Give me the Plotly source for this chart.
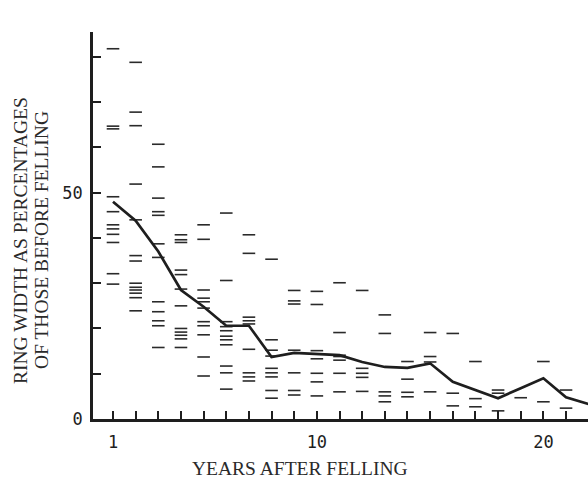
import plotly.graph_objects as go

# ---- data ----
years = list(range(1, 23))
mean_pct = [48.0, 43.8, 37.0, 28.5, 24.8, 20.6, 20.6, 13.7, 14.6, 14.4, 14.1,
            12.6, 11.5, 11.3, 12.3, 8.2, 6.4, 4.6, 6.8, 9.0, 4.8, 3.3]

yr01 = [81.8, 64.7, 64.1, 49.1, 45.8, 42.9, 42.0, 40.8, 39.0, 32.1, 29.8]
yr02 = [78.8, 67.8, 64.8, 51.9, 44.0, 36.1, 34.9, 30.0, 29.1, 28.5, 27.8, 26.8, 23.9]
yr03 = [60.7, 55.7, 48.8, 45.8, 45.0, 38.7, 35.7, 25.9, 23.7, 21.7, 20.6, 15.8]
yr04 = [40.7, 39.6, 39.0, 32.9, 31.9, 28.7, 25.0, 20.0, 19.2, 18.5, 17.7, 15.8]
yr05 = [42.9, 39.7, 28.5, 26.7, 25.9, 24.5, 21.5, 20.6, 18.6, 13.7, 9.5]
yr06 = [45.5, 30.6, 21.5, 20.4, 19.5, 18.3, 17.5, 16.4, 11.7, 10.2, 6.6]
yr07 = [40.7, 36.6, 22.5, 21.7, 21.0, 15.4, 10.2, 9.3, 8.4]
yr08 = [35.3, 17.5, 15.2, 13.9, 11.2, 10.2, 9.3, 6.3, 4.6]
yr09 = [28.4, 26.1, 25.4, 15.2, 10.2, 6.3, 5.3]
yr10 = [28.2, 25.3, 15.1, 13.3, 10.1, 8.2, 5.1]
yr11 = [30.1, 19.1, 14.1, 13.8, 13.0, 10.1, 6.0]
yr12 = [28.4, 11.2, 10.1, 9.2, 6.1]
yr13 = [23.0, 18.9, 6.0, 5.1, 3.8]
yr14 = [12.7, 8.8, 5.9, 4.9]
yr15 = [19.1, 13.8, 12.6, 6.0]
yr16 = [18.9, 5.7, 2.9]
yr17 = [12.7, 4.5, 2.7]
yr18 = [6.4, 5.7, 1.8]
yr19 = [4.7]
yr20 = [12.7, 3.8]
yr21 = [6.4, 2.4]
yr22 = []

obs_by_year = [yr01, yr02, yr03, yr04, yr05, yr06, yr07, yr08, yr09, yr10, yr11,
               yr12, yr13, yr14, yr15, yr16, yr17, yr18, yr19, yr20, yr21, yr22]

x_tick_vals = list(range(1, 23))
x_tick_text = ["1" if v == 1 else "10" if v == 10 else "20" if v == 20 else "" for v in x_tick_vals]
y_tick_vals = list(range(0, 81, 10))
y_tick_text = ["0" if v == 0 else "50" if v == 50 else "" for v in y_tick_vals]

x_title = "YEARS AFTER FELLING"
y_title_1 = "RING WIDTH AS PERCENTAGES"
y_title_2 = "OF THOSE BEFORE FELLING"

# ---- build ----
obs_x, obs_y = [], []
for yr, vals in zip(years, obs_by_year):
    for v in vals:
        obs_x.append(yr)
        obs_y.append(v)

INK = "#1e1e1e"

fig = go.Figure()
fig.add_trace(go.Scatter(
    x=obs_x, y=obs_y, mode="markers",
    marker=dict(symbol="line-ew", size=9, line=dict(width=1.6, color="#2a2a2a")),
    hoverinfo="skip", showlegend=False))
fig.add_trace(go.Scatter(
    x=years, y=mean_pct, mode="lines",
    line=dict(color=INK, width=2.7),
    showlegend=False))

tick_font = dict(family="DejaVu Sans Mono", size=17, color=INK)
title_font = dict(family="Liberation Serif", size=19.5, color="#2a2a2a")

fig.update_layout(
    width=588, height=480,
    margin=dict(l=93, r=0, t=32, b=61),
    paper_bgcolor="white", plot_bgcolor="white",
    showlegend=False,
    xaxis=dict(range=[0.117, 21.97], tickmode="array", tickvals=x_tick_vals,
               ticktext=x_tick_text, ticks="inside", ticklen=8, tickwidth=2,
               tickcolor=INK, showline=True, linewidth=2.5, linecolor=INK,
               showgrid=False, zeroline=False, tickfont=tick_font,
               ticklabelstandoff=6),
    yaxis=dict(range=[0, 85.5], tickmode="array", tickvals=y_tick_vals,
               ticktext=y_tick_text, ticks="inside", ticklen=8, tickwidth=2,
               tickcolor=INK, showline=True, linewidth=2.5, linecolor=INK,
               showgrid=False, zeroline=False, tickfont=tick_font,
               ticklabelstandoff=4),
    annotations=[
        dict(text=x_title, xref="paper", yref="paper", x=0.418, y=-0.129,
             xanchor="center", yanchor="middle", showarrow=False, font=title_font),
        dict(text=y_title_1, xref="paper", yref="paper", x=-0.1475, y=0.4625,
             xanchor="center", yanchor="middle", textangle=-90, showarrow=False,
             font=title_font),
        dict(text=y_title_2, xref="paper", yref="paper", x=-0.105, y=0.4625,
             xanchor="center", yanchor="middle", textangle=-90, showarrow=False,
             font=title_font),
    ],
)

fig.write_html(
    "out.html",
    config={"displayModeBar": False},
    post_script="document.documentElement.style.margin='0';"
                "document.body.style.margin='0';"
                "document.body.style.overflow='hidden';",
)
